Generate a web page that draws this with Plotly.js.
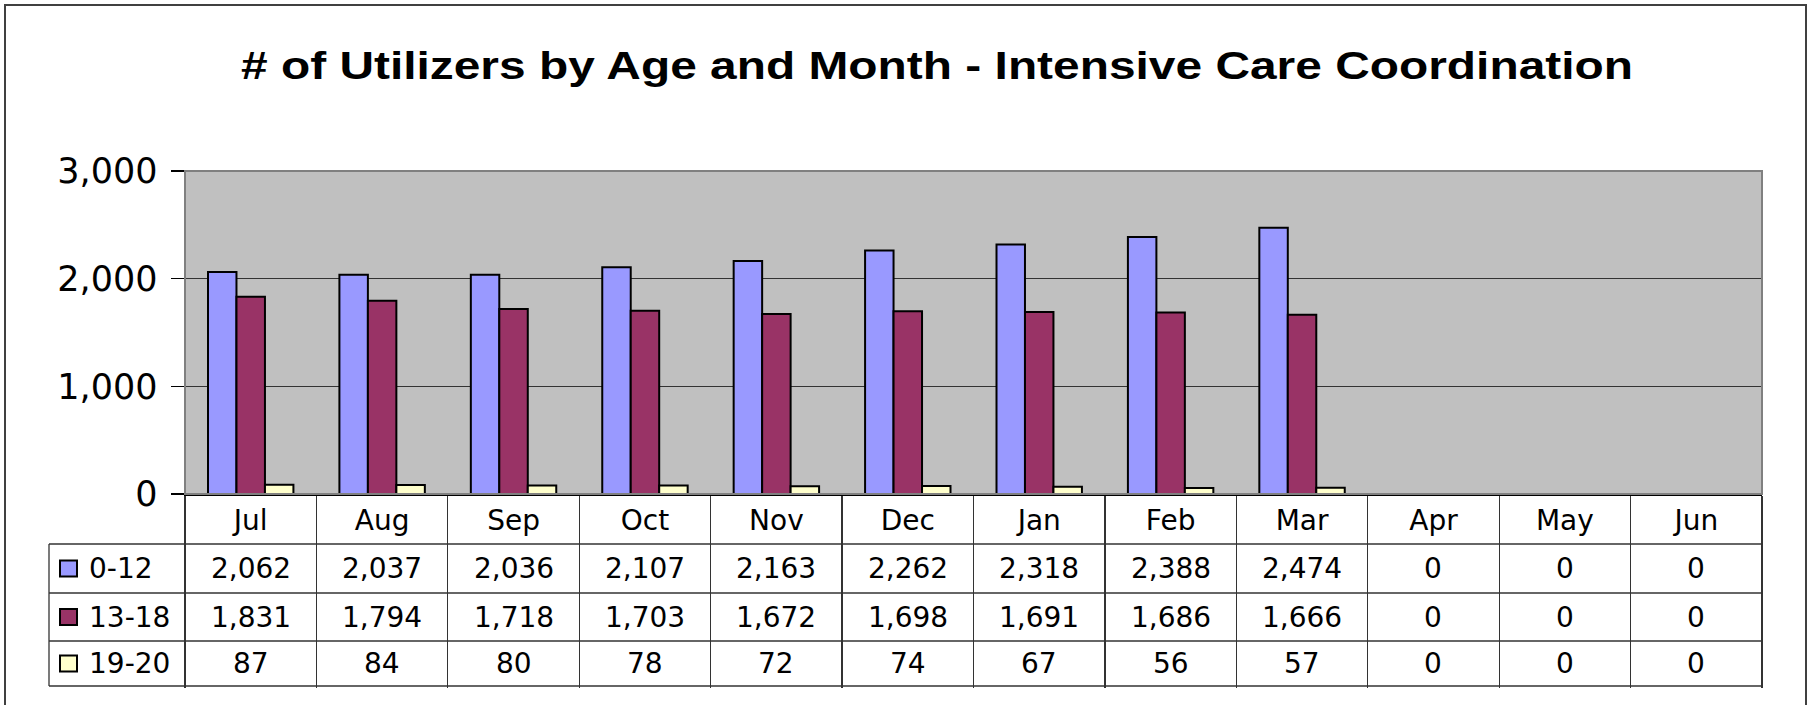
<!DOCTYPE html>
<html><head><meta charset="utf-8">
<script src="https://cdn.plot.ly/plotly-3.0.1.min.js"></script>
<style>
html,body{margin:0;padding:0;background:#fff;overflow:hidden;}
#chart{width:1808px;height:705px;}
#chart .gtitle{transform:scaleX(1.26);transform-box:fill-box;transform-origin:center;}
</style>
</head><body><div id="chart"></div>
<script>
// ---- data ----
const months = ['Jul','Aug','Sep','Oct','Nov','Dec','Jan','Feb','Mar','Apr','May','Jun'];
const seriesNames = ['0-12','13-18','19-20'];
const age0to12  = [2062, 2037, 2036, 2107, 2163, 2262, 2318, 2388, 2474, 0, 0, 0];
const age13to18 = [1831, 1794, 1718, 1703, 1672, 1698, 1691, 1686, 1666, 0, 0, 0];
const age19to20 = [87, 84, 80, 78, 72, 74, 67, 56, 57, 0, 0, 0];
const yTickVals = [0, 1000, 2000, 3000];
const titleText = '# of Utilizers by Age and Month - Intensive Care Coordination';

// ---- styles ----
const seriesValues = [age0to12, age13to18, age19to20];
const seriesColors = ['#9999FF', '#993366', '#FFFFCC'];
const FONT = 'DejaVu Sans, Liberation Sans, Arial, sans-serif';
const W = 1808, H = 705;
const M = {l: 185, r: 46, t: 171, b: 211};
const pw = W - M.l - M.r, ph = H - M.t - M.b;
const px2x = p => (p - M.l) / pw;
const py2y = p => (H - M.b - p) / ph;

// table geometry (pixels)
const tableLeft = 49, rowEdges = [544, 593, 641, 686];
const lineCol = '#333333';

const traces = seriesNames.map((name, s) => ({
  type: 'bar', name: name, x: months, y: seriesValues[s],
  marker: {color: seriesColors[s], line: {color: '#000000', width: 2}},
  hoverinfo: 'x+y+name'
}));

const shapes = [];
// outer frame
shapes.push({type: 'rect', xref: 'paper', yref: 'paper',
  x0: px2x(5), x1: px2x(1806), y0: py2y(5), y1: py2y(712),
  line: {color: '#404040', width: 2}, layer: 'below'});
// plot border
shapes.push({type: 'rect', xref: 'paper', yref: 'paper', x0: 0, x1: 1, y0: 0, y1: 1,
  line: {color: '#808080', width: 2}, layer: 'above'});
// horizontal table lines
rowEdges.forEach(py => shapes.push({type: 'line', xref: 'paper', yref: 'paper',
  x0: px2x(tableLeft), x1: 1, y0: py2y(py), y1: py2y(py), line: {color: lineCol, width: 1.3}}));
// table left edge
shapes.push({type: 'line', xref: 'paper', yref: 'paper',
  x0: px2x(tableLeft), x1: px2x(tableLeft), y0: py2y(rowEdges[0]), y1: py2y(rowEdges[3]),
  line: {color: lineCol, width: 1.3}});

const annotations = [];
seriesNames.forEach((name, s) => {
  const yc = py2y((rowEdges[s] + rowEdges[s + 1]) / 2);
  const kc = (rowEdges[s] + rowEdges[s + 1]) / 2;
  // legend key
  shapes.push({type: 'rect', xref: 'paper', yref: 'paper',
    x0: px2x(60), x1: px2x(77), y0: py2y(kc - 8), y1: py2y(kc + 8),
    fillcolor: seriesColors[s], line: {color: '#000000', width: 2}});
  annotations.push({xref: 'paper', yref: 'paper', x: px2x(87), y: yc,
    xanchor: 'left', yanchor: 'middle', text: name, showarrow: false,
    font: {family: FONT, size: 28, color: '#000'}});
  months.forEach((m, i) => {
    annotations.push({xref: 'x', yref: 'paper', x: m, y: yc,
      xanchor: 'center', yanchor: 'middle', showarrow: false,
      text: seriesValues[s][i].toLocaleString('en-US'),
      font: {family: FONT, size: 28, color: '#000'}});
  });
});

const layout = {
  width: W, height: H,
  margin: M,
  paper_bgcolor: '#ffffff', plot_bgcolor: '#C0C0C0',
  showlegend: false,
  barmode: 'group', bargap: 0.35, bargroupgap: 0,
  title: {text: titleText, x: 937 / W, xref: 'container', xanchor: 'center',
    y: 1 - 66 / H, yref: 'container', yanchor: 'middle',
    font: {family: 'Liberation Sans, Arial, sans-serif', size: 38, weight: 'bold', color: '#000'}},
  xaxis: {type: 'category', categoryorder: 'array', categoryarray: months,
    range: [-0.5, months.length - 0.5], tickson: 'boundaries',
    ticks: 'outside', ticklen: 192, tickcolor: lineCol, tickwidth: 1.3,
    ticklabelstandoff: 0,
    showgrid: false, showline: true, linecolor: '#000', linewidth: 2, zeroline: false,
    tickfont: {family: FONT, size: 28, color: '#000'}, fixedrange: true},
  yaxis: {range: [0, 3000], tickmode: 'array', tickvals: yTickVals, tickformat: ',d',
    ticks: 'outside', ticklen: 13, tickcolor: '#000', tickwidth: 1.3,
    ticklabelstandoff: 6,
    showgrid: true, gridcolor: '#333333', gridwidth: 1.3,
    showline: true, linecolor: '#333', linewidth: 1.5, zeroline: false,
    tickfont: {family: FONT, size: 35, color: '#000'}, fixedrange: true},
  shapes: shapes, annotations: annotations
};

Plotly.newPlot('chart', traces, layout, {displayModeBar: false, staticPlot: true});
</script>
</body></html>
